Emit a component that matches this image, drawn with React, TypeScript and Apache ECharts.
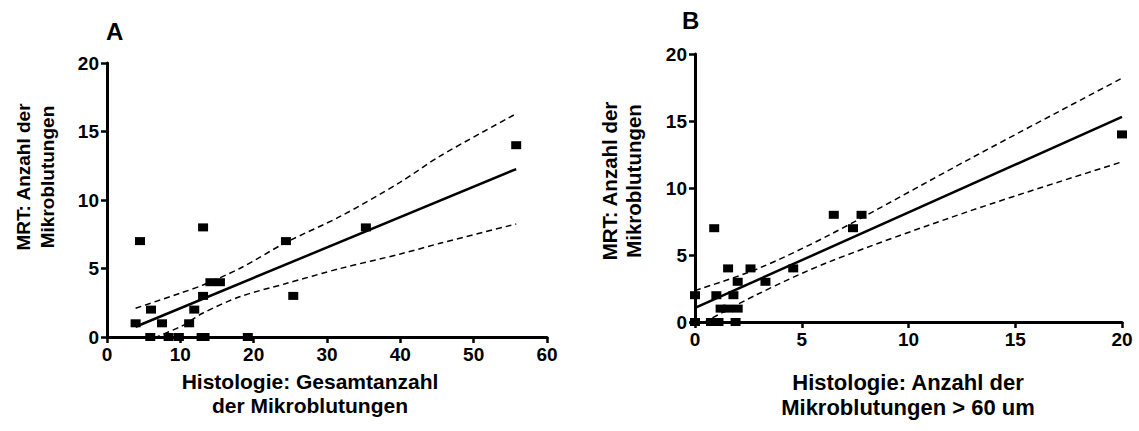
import React, { useEffect, useRef } from "react";
import * as echarts from "echarts";

// Panel A data: Histologie Gesamtanzahl (x) vs MRT Anzahl (y)
const aX = [3.9, 4.5, 6.0, 5.9, 7.5, 8.4, 9.8, 11.2, 11.9, 13.1, 13.1, 12.9, 13.3, 14.1, 15.4, 19.2, 24.4, 25.4, 35.3, 55.8];
const aY = [1, 7, 2, 0, 1, 0, 0, 1, 2, 3, 8, 0, 0, 4, 4, 0, 7, 3, 8, 14];
const aFitX = [3.9, 55.8];
const aFitY = [0.75, 12.26];
const aBandX = [3.9, 10, 13.1, 18.1, 24.4, 31.8, 40, 45.4, 55.8];
const aUpper = [2.1, 3.2, 3.8, 5.0, 6.9, 8.8, 11.3, 13.2, 16.3];
const aLower = [-0.6, 0.75, 1.75, 2.94, 3.9, 5.0, 6.06, 6.84, 8.25];

// Panel B data: Histologie Anzahl > 60 um (x) vs MRT Anzahl (y)
const bX = [0, 0, 0.9, 1.55, 2.6, 4.6, 2.0, 3.3, 1.0, 1.8, 1.2, 1.55, 2.0, 0.75, 1.1, 1.9, 6.5, 7.8, 7.4, 20];
const bY = [2, 0, 7, 4, 4, 4, 3, 3, 2, 2, 1, 1, 1, 0, 0, 0, 8, 8, 7, 14];
const bFitX = [0, 20];
const bFitY = [1.05, 15.3];
const bBandX = [0, 2.9, 6.3, 12.9, 20];
const bUpper = [2.35, 3.95, 6.5, 12.2, 18.2];
const bLower = [-0.4, 2.05, 4.5, 8.3, 11.95];

const xTicksA = [0, 10, 20, 30, 40, 50, 60];
const xTicksB = [0, 5, 10, 15, 20];
const yTicks = [0, 5, 10, 15, 20];

const FONT = "'Liberation Sans', Arial, sans-serif";

const pairs = (xs: number[], ys: number[]) => xs.map((x, i) => [x, ys[i]]);

const axisCommon = {
  axisLine: { show: true, onZero: false, lineStyle: { color: "#000", width: 3 } },
  axisTick: { show: true, inside: false, length: 6, lineStyle: { color: "#000", width: 2.5 } },
  axisLabel: { color: "#000", fontFamily: FONT, fontWeight: "bold", fontSize: 19, margin: 8 },
  splitLine: { show: false },
};

export default function App() {
  const ref = useRef<HTMLDivElement>(null);
  useEffect(() => {
    if (!ref.current) return;
    const chart = echarts.init(ref.current, undefined, { renderer: "svg" });
    const dashed = { color: "#000", width: 1.5, type: [6, 4] as any };
    const scatterStyle = {
      type: "scatter" as const,
      symbol: "rect",
      symbolSize: [10, 8],
      itemStyle: { color: "#000", opacity: 1 },
      z: 5,
    };
    chart.setOption({
      animation: false,
      backgroundColor: "#fff",
      grid: [
        { left: 107, top: 63, width: 440, height: 274 },
        { left: 695, top: 54, width: 427, height: 268 },
      ],
      xAxis: [
        { ...axisCommon, type: "value", gridIndex: 0, min: xTicksA[0], max: xTicksA[xTicksA.length - 1], interval: 10 },
        { ...axisCommon, type: "value", gridIndex: 1, min: xTicksB[0], max: xTicksB[xTicksB.length - 1], interval: 5 },
      ],
      yAxis: [
        { ...axisCommon, type: "value", gridIndex: 0, min: yTicks[0], max: yTicks[yTicks.length - 1], interval: 5 },
        { ...axisCommon, type: "value", gridIndex: 1, min: yTicks[0], max: yTicks[yTicks.length - 1], interval: 5 },
      ],
      series: [
        { ...scatterStyle, xAxisIndex: 0, yAxisIndex: 0, data: pairs(aX, aY) },
        { type: "line", xAxisIndex: 0, yAxisIndex: 0, data: pairs(aFitX, aFitY), symbol: "none", lineStyle: { color: "#000", width: 2.5 } },
        { type: "line", xAxisIndex: 0, yAxisIndex: 0, data: pairs(aBandX, aUpper), symbol: "none", smooth: 0.3, lineStyle: dashed },
        { type: "line", xAxisIndex: 0, yAxisIndex: 0, data: pairs(aBandX, aLower), symbol: "none", smooth: 0.3, lineStyle: dashed },
        { ...scatterStyle, xAxisIndex: 1, yAxisIndex: 1, data: pairs(bX, bY) },
        { type: "line", xAxisIndex: 1, yAxisIndex: 1, data: pairs(bFitX, bFitY), symbol: "none", lineStyle: { color: "#000", width: 2.5 } },
        { type: "line", xAxisIndex: 1, yAxisIndex: 1, data: pairs(bBandX, bUpper), symbol: "none", smooth: 0.3, lineStyle: dashed },
        { type: "line", xAxisIndex: 1, yAxisIndex: 1, data: pairs(bBandX, bLower), symbol: "none", smooth: 0.3, lineStyle: dashed },
      ],
      graphic: [
        { type: "text", left: 106, top: 19, style: { text: "A", font: `bold 24px ${FONT}`, fill: "#000" } },
        { type: "text", left: 682, top: 8, style: { text: "B", font: `bold 24px ${FONT}`, fill: "#000" } },
        {
          type: "text", x: 35, y: 177, rotation: Math.PI / 2,
          style: { text: "MRT: Anzahl der\nMikroblutungen", font: `bold 19px ${FONT}`, fill: "#000", align: "center", verticalAlign: "middle", lineHeight: 24 },
        },
        {
          type: "text", x: 621, y: 181, rotation: Math.PI / 2,
          style: { text: "MRT: Anzahl der\nMikroblutungen", font: `bold 20.5px ${FONT}`, fill: "#000", align: "center", verticalAlign: "middle", lineHeight: 24 },
        },
        {
          type: "text", x: 310, y: 393,
          style: { text: "Histologie: Gesamtanzahl\nder Mikroblutungen", font: `bold 21px ${FONT}`, fill: "#000", align: "center", verticalAlign: "middle", lineHeight: 24 },
        },
        {
          type: "text", x: 908, y: 395,
          style: { text: "Histologie: Anzahl der\nMikroblutungen > 60 um", font: `bold 22px ${FONT}`, fill: "#000", align: "center", verticalAlign: "middle", lineHeight: 25 },
        },
      ],
    });
    return () => chart.dispose();
  }, []);
  return <div ref={ref} style={{ position: "fixed", left: 0, top: 0, width: 1139, height: 431 }} />;
}
